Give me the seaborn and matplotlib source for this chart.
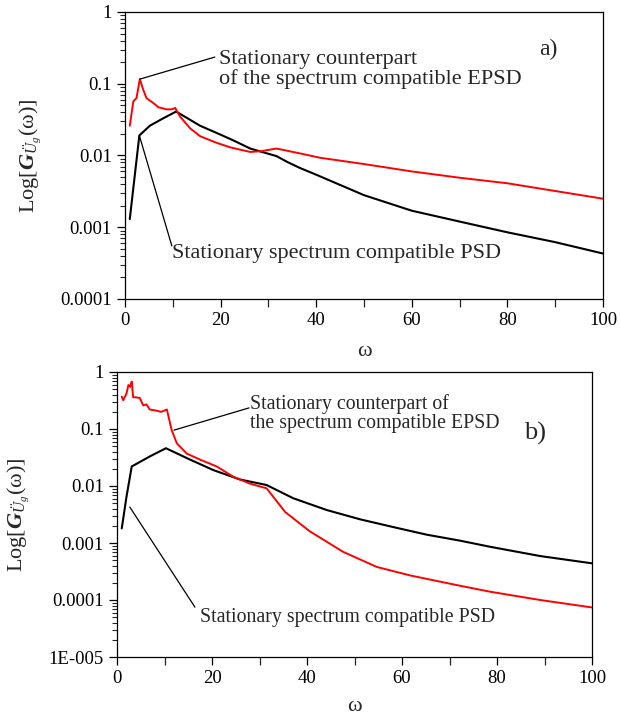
import matplotlib
matplotlib.use("Agg")
import matplotlib.pyplot as plt
import matplotlib.ticker as mticker
import seaborn as sns
import pandas as pd

# ---------------- data ----------------
# panel a)
omega_a_psd = [1, 3, 5.2, 8, 10.7, 15.7, 20, 22.7, 26.2, 31.7, 34, 36.6, 40, 50, 60, 70, 80, 90, 100]
psd_a = [0.0013, 0.019, 0.026, 0.033, 0.041, 0.026, 0.0195, 0.0162, 0.0125, 0.0098, 0.0081,
         0.0067, 0.0054, 0.0028, 0.0017, 0.0012, 0.00085, 0.00062, 0.00043]
omega_a_epsd = [1, 1.75, 2.4, 3.1, 3.8, 4.5, 5.9, 7.0, 8.7, 9.8, 10.5, 11.5, 13.6, 15.7, 19.2,
                22, 26.2, 28.5, 31.7, 36.6, 40.8, 50, 60, 70, 80, 90, 100]
epsd_a = [0.026, 0.057, 0.063, 0.116, 0.083, 0.063, 0.054, 0.047, 0.044, 0.044, 0.046, 0.035,
          0.024, 0.0186, 0.015, 0.013, 0.0112, 0.0115, 0.0125, 0.0107, 0.0093, 0.0076, 0.006,
          0.0049, 0.0041, 0.0032, 0.0025]

# panel b)
omega_b_psd = [1, 2, 3.1, 6.9, 10.3, 15.4, 20.3, 25.9, 31.5, 37.1, 44.1, 51.2, 58.2, 65.2,
               72.2, 78.5, 89.1, 100]
psd_b = [0.0018, 0.0065, 0.022, 0.033, 0.046, 0.029, 0.019, 0.013, 0.0104, 0.0061, 0.0038,
         0.0026, 0.0019, 0.0014, 0.0011, 0.00086, 0.00059, 0.00044]
omega_b_epsd = [1, 1.3, 2.0, 2.4, 2.8, 3.1, 3.4, 4.0, 4.8, 5.5, 6.2, 6.9, 8.3, 9.3, 10.5, 11.5,
                12.6, 14.7, 17.5, 21, 24.5, 28, 31.5, 35.4, 40.6, 47.6, 54.7, 61.7, 68, 72.2,
                78.5, 89.1, 100]
epsd_b = [0.37, 0.32, 0.42, 0.59, 0.55, 0.68, 0.36, 0.36, 0.35, 0.26, 0.27, 0.22, 0.21, 0.20,
          0.22, 0.096, 0.056, 0.037, 0.029, 0.022, 0.0145, 0.011, 0.0091, 0.0035, 0.0016,
          0.0007, 0.00038, 0.00027, 0.00021, 0.000178, 0.00014, 0.0001, 0.000074]

x_ticks = [0, 20, 40, 60, 80, 100]
x_minor = [10, 30, 50, 70, 90]
y_ticks_a = [1e-4, 1e-3, 1e-2, 1e-1, 1]
y_labels_a = ["0.0001", "0.001", "0.01", "0.1", "1"]
y_ticks_b = [1e-5, 1e-4, 1e-3, 1e-2, 1e-1, 1]
y_labels_b = ["1E-005", "0.0001", "0.001", "0.01", "0.1", "1"]

txt_epsd_a = "Stationary counterpart\nof the spectrum compatible EPSD"
txt_epsd_b = "Stationary counterpart of\nthe spectrum compatible EPSD"
txt_psd = "Stationary spectrum compatible PSD"
ylab = r"Log[$\mathbf{G}_{\ddot{U}_g}$(ω)]"
xlab = "ω"

# ---------------- style ----------------
sns.set_style("ticks")
plt.rcParams["font.family"] = ["Liberation Serif", "DejaVu Serif"]
plt.rcParams["mathtext.fontset"] = "custom"
plt.rcParams["mathtext.rm"] = "Liberation Serif"
plt.rcParams["mathtext.it"] = "Liberation Serif:italic"
plt.rcParams["mathtext.bf"] = "Liberation Serif:bold:italic"

fig = plt.figure(figsize=(6.2, 7.18), dpi=100)
ax_a = fig.add_axes([125 / 620, 1 - 299 / 718, 478 / 620, 287 / 718])
ax_b = fig.add_axes([117 / 620, 1 - 657 / 718, 475 / 620, 285 / 718])


def draw(ax, wp, vp, we, ve):
    dfp = pd.DataFrame({"w": wp, "v": vp})
    dfe = pd.DataFrame({"w": we, "v": ve})
    sns.lineplot(data=dfp, x="w", y="v", ax=ax, color="black", lw=1.5,
                 estimator=None, sort=False)
    sns.lineplot(data=dfe, x="w", y="v", ax=ax, color="red", lw=1.4,
                 estimator=None, sort=False)


def style(ax, yt, yl, ylim):
    ax.set_yscale("log")
    ax.set_xlim(0, 100)
    ax.set_ylim(*ylim)
    ax.set_xticks(x_ticks)
    ax.set_xticks(x_minor, minor=True)
    ax.set_xticklabels([str(t) for t in x_ticks])
    ax.set_yticks(yt)
    ax.set_yticklabels(yl)
    ax.yaxis.set_minor_locator(mticker.LogLocator(base=10, subs=range(2, 10), numticks=20))
    ax.yaxis.set_minor_formatter(mticker.NullFormatter())
    ax.tick_params(axis="both", which="major", labelsize=13.5, length=6, width=0.9,
                   direction="out", colors="black")
    ax.tick_params(axis="x", which="minor", length=6, width=0.9, direction="out")
    ax.tick_params(axis="y", which="minor", length=3.5, width=0.8, direction="out")
    for s in ax.spines.values():
        s.set_visible(True)
        s.set_linewidth(0.9)
        s.set_color("black")
    ax.set_xlabel(xlab, fontsize=16)
    ax.set_ylabel(ylab, fontsize=16)


draw(ax_a, omega_a_psd, psd_a, omega_a_epsd, epsd_a)
draw(ax_b, omega_b_psd, psd_b, omega_b_epsd, epsd_b)
style(ax_a, y_ticks_a, y_labels_a, (1e-4, 1))
style(ax_b, y_ticks_b, y_labels_b, (1e-5, 1))

ax_a.yaxis.set_label_coords(-0.172, 0.50)
ax_a.xaxis.set_label_coords(0.5, -0.150)
ax_b.yaxis.set_label_coords(-0.180, 0.50)
ax_b.xaxis.set_label_coords(0.5, -0.142)

line_kw = dict(arrowstyle="-", color="black", lw=0.9, shrinkA=0, shrinkB=0)

# panel a annotations
ax_a.annotate("", xy=(omega_a_epsd[3], epsd_a[3]), xycoords="data",
              xytext=(0.188, 0.843), textcoords="axes fraction", arrowprops=line_kw)
ax_a.text(0.197, 0.80, txt_epsd_a, transform=ax_a.transAxes, fontsize=16,
          ha="left", va="center", linespacing=1.0)
ax_a.annotate("", xy=(omega_a_psd[1], psd_a[1]), xycoords="data",
              xytext=(0.098, 0.185), textcoords="axes fraction", arrowprops=line_kw)
ax_a.text(0.098, 0.160, txt_psd, transform=ax_a.transAxes, fontsize=16,
          ha="left", va="center")
ax_a.text(0.885, 0.868, "a)", transform=ax_a.transAxes, fontsize=17,
          ha="center", va="center")

# panel b annotations
ax_b.annotate("", xy=(0.12, 0.796), xycoords="axes fraction",
              xytext=(0.278, 0.874), textcoords="axes fraction", arrowprops=line_kw)
ax_b.text(0.281, 0.853, txt_epsd_b, transform=ax_b.transAxes, fontsize=14.3,
          ha="left", va="center", linespacing=1.0)
ax_b.annotate("", xy=(0.027, 0.526), xycoords="axes fraction",
              xytext=(0.164, 0.175), textcoords="axes fraction", arrowprops=line_kw)
ax_b.text(0.175, 0.137, txt_psd, transform=ax_b.transAxes, fontsize=14.3,
          ha="left", va="center")
ax_b.text(0.88, 0.786, "b)", transform=ax_b.transAxes, fontsize=19,
          ha="center", va="center")

fig.savefig("out.png", dpi=100)
